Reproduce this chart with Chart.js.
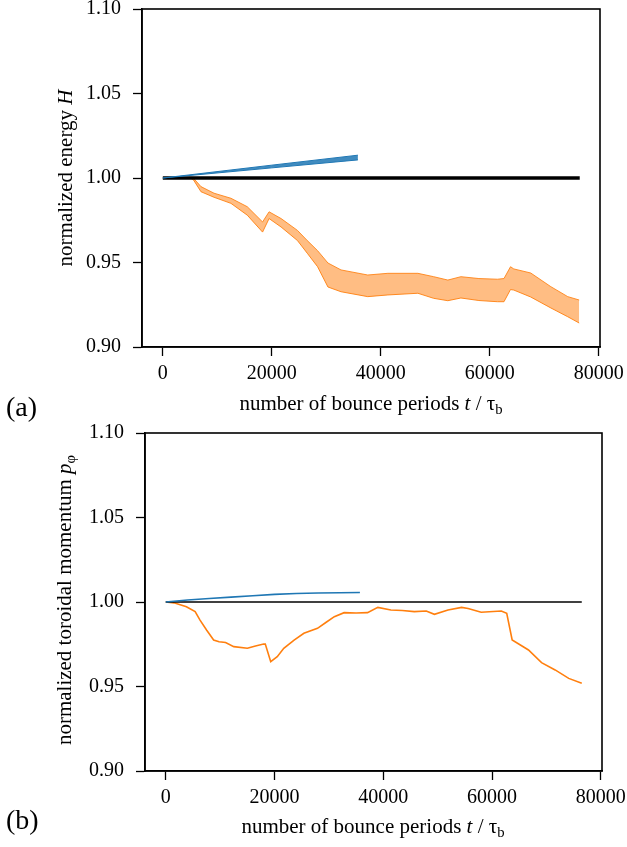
<!DOCTYPE html>
<html>
<head>
<meta charset="utf-8">
<script src="https://cdn.jsdelivr.net/npm/chart.js@4.4.0/dist/chart.umd.min.js"></script>
<style>
body { margin: 0; background: #fff; }
#page { position: relative; width: 627px; height: 847px; overflow: hidden; font-family: "Liberation Serif", "DejaVu Serif", serif; color: #000; }
.box { position: absolute; left: 0; width: 627px; }
#boxA { top: 0; height: 420px; }
#boxB { top: 420px; height: 427px; }
.lbl { position: absolute; white-space: nowrap; font-size: 21px; line-height: 1; transform: translate(-50%, -50%); }
.rot { transform: translate(-50%, -50%) rotate(-90deg); }
.tag { position: absolute; font-size: 28px; line-height: 1; }
sub { font-size: 0.7em; vertical-align: -0.25em; }
</style>
</head>
<body>
<div id="page">
  <div class="box" id="boxA"><canvas id="chartA" width="627" height="420"></canvas></div>
  <div class="box" id="boxB"><canvas id="chartB" width="627" height="427"></canvas></div>
  <div class="lbl rot" style="left:65px;top:178px">normalized energy <i>H</i></div>
  <div class="lbl" style="left:371px;top:405px">number of bounce periods <i>t</i> / τ<sub>b</sub></div>
  <div class="tag" style="left:6px;top:393px">(a)</div>
  <div class="lbl rot" style="left:66px;top:600px">normalized toroidal momentum <i>p</i><sub>φ</sub></div>
  <div class="lbl" style="left:373px;top:828px">number of bounce periods <i>t</i> / τ<sub>b</sub></div>
  <div class="tag" style="left:6px;top:806px">(b)</div>
</div>
<script>
// x range / ticks shared by both panels
var xMin = -3820, xMax = 80220;
var xTicks = [0, 20000, 40000, 60000, 80000];
var yTicks = [0.90, 0.95, 1.00, 1.05, 1.10];

// (a) normalized energy
var energyBlueT = [0, 20000, 35800];
var energyBlueHi = [1.0, 1.0076, 1.0135];
var energyBlueLo = [1.0, 1.0060, 1.0107];

var energyBlackT = [0, 76500];
var energyBlack = [1.0, 1.0];

var energyOrangeT = [0, 5000, 5600, 7000, 9400, 12500, 15500, 18300, 19500, 21700, 24700, 26500, 28400, 30300, 32700, 37600, 41300, 46800, 49700, 52300, 54700, 58000, 61400, 62600, 63800, 64400, 67500, 71200, 74300, 76400];
var energyOrangeHi = [1.0, 1.0, 1.0, 0.9949, 0.991, 0.988, 0.983, 0.974, 0.980, 0.976, 0.969, 0.963, 0.957, 0.9497, 0.9456, 0.9426, 0.9436, 0.9436, 0.9416, 0.9396, 0.9416, 0.9405, 0.9401, 0.9405, 0.9475, 0.9462, 0.9438, 0.9357, 0.9298, 0.9278];
var energyOrangeLo = [1.0, 1.0, 0.999, 0.9919, 0.9886, 0.985, 0.978, 0.968, 0.976, 0.971, 0.963, 0.9555, 0.9475, 0.9355, 0.9327, 0.9298, 0.9308, 0.9318, 0.9288, 0.9274, 0.929, 0.9275, 0.9268, 0.9268, 0.934, 0.9337, 0.9296, 0.9231, 0.9179, 0.9142];

// (b) normalized toroidal momentum
var momBlueT = [0, 4000, 8000, 12000, 16000, 20000, 24000, 28000, 32000, 35700];
var momBlue = [1.0, 1.0012, 1.0021, 1.0029, 1.0037, 1.0045, 1.0050, 1.0053, 1.0055, 1.0056];

var momBlackT = [0, 76500];
var momBlack = [1.0, 1.0];

var momOrangeT = [0, 1500, 3800, 5400, 6300, 7500, 8800, 9800, 11000, 12500, 15000, 16500, 18000, 18300, 19300, 20500, 21700, 23600, 25400, 27900, 29500, 31000, 32800, 35000, 37100, 39000, 41400, 43500, 45700, 47900, 49400, 51900, 54400, 55600, 58000, 61700, 62700, 63700, 66700, 69100, 71600, 74100, 76500];
var momOrange = [1.0, 0.9995, 0.9972, 0.9943, 0.9893, 0.9834, 0.9775, 0.9765, 0.976, 0.9736, 0.9726, 0.974, 0.9751, 0.9751, 0.9647, 0.9676, 0.9726, 0.9775, 0.9815, 0.9844, 0.988, 0.9913, 0.9937, 0.9935, 0.9937, 0.9968, 0.9953, 0.995, 0.9943, 0.9947, 0.9927, 0.9953, 0.9968, 0.9962, 0.9939, 0.9947, 0.9933, 0.9775, 0.9716, 0.9641, 0.9598, 0.9548, 0.9519];

var BLUE = '#1f77b4', ORANGE = '#ff7f0e';
var SERIF = '"Liberation Serif", "DejaVu Serif", serif';

function pts(xs, ys) {
    return xs.map(function(x, i) { return { x: x, y: ys[i] }; });
}

function line(data, color, width, order, extra) {
    var ds = { data: data, borderColor: color, borderWidth: width, pointRadius: 0, tension: 0, fill: false, order: order };
    for (var k in extra) ds[k] = extra[k];
    return ds;
}

// box around the plot area (matplotlib spines)
var frame = {
    id: 'frame',
    afterDraw: function(chart) {
        var a = chart.chartArea, c = chart.ctx;
        c.save();
        c.strokeStyle = '#000';
        c.lineWidth = 1.6;
        c.strokeRect(a.left, a.top, a.right - a.left, a.bottom - a.top);
        c.restore();
    }
};

function noPad(s) { s.paddingTop = 0; s.paddingBottom = 0; s.paddingLeft = 0; s.paddingRight = 0; }

function options(pad, yWidth, xHeight) {
    return {
        responsive: false,
        animation: false,
        devicePixelRatio: 1,
        layout: { padding: pad },
        plugins: { legend: { display: false }, tooltip: { enabled: false } },
        scales: {
            x: {
                type: 'linear', min: xMin, max: xMax,
                afterFit: function(s) { s.height = xHeight; noPad(s); },
                afterBuildTicks: function(s) { s.ticks = xTicks.map(function(v) { return { value: v }; }); },
                ticks: { color: '#000', padding: 6, maxRotation: 0, font: { family: SERIF, size: 20 }, callback: function(v) { return String(v); } },
                grid: { drawOnChartArea: false, tickLength: 9, tickColor: '#000', tickWidth: 1.3 },
                border: { color: '#000', width: 1.6 }
            },
            y: {
                min: 0.9, max: 1.1,
                afterFit: function(s) { s.width = yWidth; noPad(s); },
                afterBuildTicks: function(s) { s.ticks = yTicks.map(function(v) { return { value: v }; }); },
                ticks: { color: '#000', padding: 12, font: { family: SERIF, size: 20 }, callback: function(v) { return v.toFixed(2); } },
                grid: { drawOnChartArea: false, tickLength: 9, tickColor: '#000', tickWidth: 1.3 },
                border: { color: '#000', width: 1.6 }
            }
        }
    };
}

Chart.defaults.font.family = SERIF;

new Chart(document.getElementById('chartA'), {
    type: 'line',
    data: {
        datasets: [
            line(pts(energyBlueT, energyBlueHi), BLUE, 1, 1),
            line(pts(energyBlueT, energyBlueLo), BLUE, 1, 1, { fill: '-1', backgroundColor: 'rgba(31,119,180,0.85)' }),
            line(pts(energyBlackT, energyBlack), '#000', 3.5, 2),
            line(pts(energyOrangeT, energyOrangeHi), 'rgba(255,127,14,0.85)', 1, 3),
            line(pts(energyOrangeT, energyOrangeLo), 'rgba(255,127,14,0.9)', 1, 3, { fill: '-1', backgroundColor: 'rgba(255,135,30,0.55)' })
        ]
    },
    options: options({ left: 0, top: 9, right: 27, bottom: 0 }, 142, 73),
    plugins: [frame]
});

new Chart(document.getElementById('chartB'), {
    type: 'line',
    data: {
        datasets: [
            line(pts(momBlueT, momBlue), BLUE, 1.6, 1),
            line(pts(momBlackT, momBlack), '#000', 1.6, 2),
            line(pts(momOrangeT, momOrange), ORANGE, 1.6, 3)
        ]
    },
    options: options({ left: 0, top: 13, right: 25, bottom: 0 }, 145, 76),
    plugins: [frame]
});
</script>
</body>
</html>
